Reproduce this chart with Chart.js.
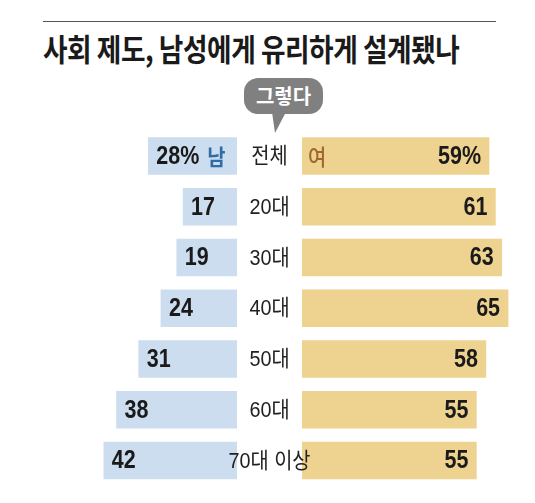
<!DOCTYPE html>
<html><head><meta charset="utf-8">
<script src="https://cdn.jsdelivr.net/npm/chart.js@4"></script>
<style>
html,body{margin:0;padding:0;background:#fff;width:535px;height:503px;overflow:hidden;}
#wrap{position:relative;width:535px;height:503px;}
canvas{position:absolute;left:0;top:0;}
#rule{position:absolute;left:43px;top:21px;width:453px;height:1px;background:#555;}
#title{position:absolute;left:43px;top:25px;font-family:'Noto Sans CJK KR';font-weight:700;font-size:31px;color:#1a1a1a;white-space:nowrap;transform:scaleX(0.86);transform-origin:0 0;letter-spacing:-0.5px;}
#bubble{position:absolute;left:244px;top:78px;width:79px;height:36px;border-radius:14px;background:#808080;color:#fff;font-family:'Noto Sans CJK KR';font-weight:700;font-size:20px;line-height:35px;text-align:center;}
#tail{position:absolute;left:266px;top:112px;width:22px;height:22px;background:#808080;clip-path:polygon(6px 0,20px 0,9px 21px);}
</style></head>
<body><div id="wrap">
<div id="rule"></div>
<div id="title">사회 제도, 남성에게 유리하게 설계됐나</div>
<div id="bubble">그렇다</div>
<div id="tail"></div>
<canvas id="left" width="535" height="503"></canvas>
<canvas id="right" width="535" height="503"></canvas>
</div>
<script>
const categories = ['전체','20대','30대','40대','50대','60대','70대 이상'];
const menValues = [28,17,19,24,31,38,42];
const womenValues = [59,61,63,65,58,55,55];
const menLabels = ['28%','17','19','24','31','38','42'];
const womenLabels = ['59%','61','63','65','58','55','55'];

const NUM_FONT = "bold 25px 'Liberation Sans', 'Noto Sans CJK KR'";
const CAT_FONT = "22px 'Liberation Sans', 'Noto Sans CJK KR'";

// draw horizontally condensed text; returns drawn width
function condText(ctx, text, x, y, align, sx){
  const w = ctx.measureText(text).width * sx;
  let left = x;
  if(align==='right') left = x - w;
  else if(align==='center') left = x - w/2;
  ctx.save();
  ctx.translate(left, y);
  ctx.scale(sx, 1);
  ctx.textAlign='left';
  ctx.fillText(text, 0, 0);
  ctx.restore();
  return w;
}

const leftLabels = {
  id:'leftLabels',
  afterDatasetsDraw(chart){
    const ctx = chart.ctx;
    const meta = chart.getDatasetMeta(0);
    ctx.save();
    ctx.textBaseline='middle';
    meta.data.forEach((bar,i)=>{
      const x = bar.x + 8;
      const y = bar.y + 1;
      ctx.font = NUM_FONT;
      ctx.fillStyle = '#1a1a1a';
      const w = condText(ctx, menLabels[i], x, y, 'left', 0.86);
      if(i===0){
        ctx.font = "bold 22px 'Noto Sans CJK KR'";
        ctx.fillStyle = '#2f6da6';
        condText(ctx, '남', x + w + 8, y, 'left', 0.9);
      }
    });
    ctx.restore();
  }
};

const rightLabels = {
  id:'rightLabels',
  afterDatasetsDraw(chart){
    const ctx = chart.ctx;
    const meta = chart.getDatasetMeta(0);
    ctx.save();
    ctx.textBaseline='middle';
    meta.data.forEach((bar,i)=>{
      const y = bar.y + 1;
      ctx.font = NUM_FONT;
      ctx.fillStyle = '#1a1a1a';
      condText(ctx, womenLabels[i], bar.x - 8, y, 'right', 0.86);
      if(i===0){
        ctx.font = "500 22px 'Noto Sans CJK KR'";
        ctx.fillStyle = '#a0682c';
        condText(ctx, '여', bar.base + 6, y, 'left', 0.9);
      }
      ctx.font = CAT_FONT;
      ctx.fillStyle = '#222';
      condText(ctx, categories[i], 269.5, y, 'center', 0.9);
    });
    ctx.restore();
  }
};

const PX = 3.17;
const TOP = 130.6, BOTTOM = 503 - 485.9;
const CENTER_L = 237, CENTER_R = 302;
const LMAX = 60, RMAX = 70;

function baseOpts(max, reverse, padL, padR){
  return {
    indexAxis:'y',
    responsive:false,
    animation:false,
    devicePixelRatio:1,
    layout:{padding:{left:padL,right:padR,top:TOP,bottom:BOTTOM}},
    plugins:{legend:{display:false},tooltip:{enabled:false}},
    scales:{
      x:{type:'linear',min:0,max:max,reverse:reverse,display:false},
      y:{type:'category',display:false}
    }
  };
}

new Chart(document.getElementById('left'),{
  type:'bar',
  data:{labels:categories,datasets:[{data:menValues,backgroundColor:'#cbddee',barThickness:37,borderWidth:0}]},
  options:baseOpts(LMAX,true,CENTER_L - LMAX*PX, 535 - CENTER_L),
  plugins:[leftLabels]
});
new Chart(document.getElementById('right'),{
  type:'bar',
  data:{labels:categories,datasets:[{data:womenValues,backgroundColor:'#eed28f',barThickness:37,borderWidth:0}]},
  options:baseOpts(RMAX,false,CENTER_R, 535 - CENTER_R - RMAX*PX),
  plugins:[rightLabels]
});
</script>
</body></html>
